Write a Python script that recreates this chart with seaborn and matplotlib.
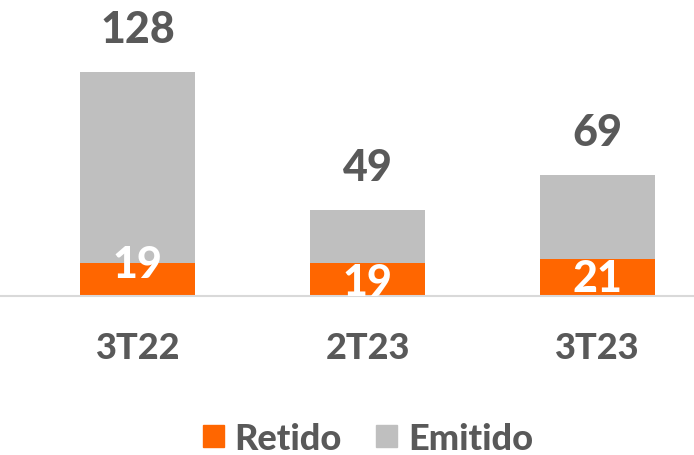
import os
import seaborn as sns
import pandas as pd
import matplotlib.pyplot as plt
from matplotlib.patches import Patch
from matplotlib.font_manager import FontProperties

periods = ["3T22", "2T23", "3T23"]
retido = [19, 19, 21]
total = [128, 49, 69]
# where the white labels sit inside the orange part (as in the source)
retido_label_y = [18.3, 8.0, 10.3]

ORANGE = "#FF6600"
GREY = "#BFBFBF"
TEXT = "#595959"

sns.set_theme(style="white")
plt.rcParams["font.family"] = ["Lato", "DejaVu Sans"]

bold_file = "/usr/share/fonts/truetype/lato/Lato-Heavy.ttf"


def bold(size):
    if os.path.exists(bold_file):
        return FontProperties(fname=bold_file, size=size)
    return FontProperties(family="Lato", weight="heavy", size=size)


df = pd.DataFrame({"period": periods, "retido": retido, "total": total})

fig = plt.figure(figsize=(6.94, 4.56), dpi=100)
ax = fig.add_axes([0, 1 - 297 / 456, 1, 277 / 456])

sns.barplot(data=df, x="period", y="total", color=GREY, width=0.5,
            saturation=1, linewidth=0, ax=ax)
sns.barplot(data=df, x="period", y="retido", color=ORANGE, width=0.5,
            saturation=1, linewidth=0, ax=ax)

for i, (t, r, ly) in enumerate(zip(total, retido, retido_label_y)):
    ax.text(i, t + 24.5, str(t), ha="center", va="center",
            fontproperties=bold(31), color=TEXT)
    ax.text(i, ly, str(r), ha="center", va="center",
            fontproperties=bold(31), color="white", clip_on=True)

ax.set_xlim(-0.6, 2.42)
ax.set_ylim(0, 277 / 1.75)
ax.set_xlabel("")
ax.set_ylabel("")
ax.set_yticks([])
ax.tick_params(axis="x", length=0, pad=25, labelcolor=TEXT)
for lab in ax.get_xticklabels():
    lab.set_fontproperties(bold(26))
for s in ["top", "left", "right"]:
    ax.spines[s].set_visible(False)
ax.spines["bottom"].set_color("#D9D9D9")
ax.spines["bottom"].set_linewidth(1.5)

handles = [Patch(color=ORANGE, label="Retido"), Patch(color=GREY, label="Emitido")]
leg = fig.legend(handles=handles, loc="center", bbox_to_anchor=(0.530, 0.037),
                 ncol=2, frameon=False, prop=bold(26), handlelength=0.58,
                 handleheight=0.58, handletextpad=0.3, columnspacing=0.95,
                 borderpad=0.2)
for t in leg.get_texts():
    t.set_color(TEXT)

fig.savefig("out.png", dpi=100)
